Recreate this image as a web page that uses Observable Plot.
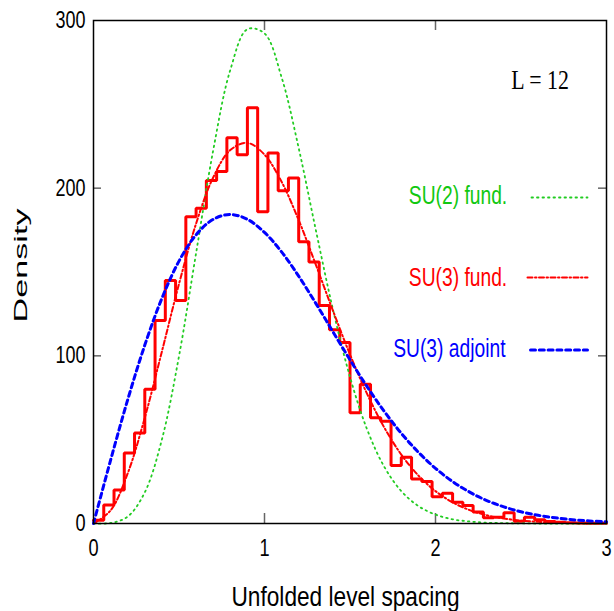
<!DOCTYPE html>
<html><head><meta charset="utf-8">
<script src="https://cdn.jsdelivr.net/npm/d3@7"></script>
<script src="https://cdn.jsdelivr.net/npm/@observablehq/plot@0.6"></script>
<style>body{margin:0;background:#fff}</style>
</head><body><div id="chart"></div>
<script>
// ---- data ----
const binWidth = 0.06;
const binCounts = [2, 11, 20, 42, 54, 80, 121, 145, 133, 183,
  188, 204.5, 210, 230, 220, 248, 186, 221, 198.5, 206,
  168, 156, 130, 115.5, 108, 66, 83, 63, 61, 34.6,
  39.5, 26.6, 25, 16, 18, 12.7, 10.7, 6.8, 3.4, 3.8,
  6.4, 1.4, 3.8, 2.2, 1.2, 0.8, 0.5, 0.3, 0.2, 0.1];
const curveS = [0, 0.1, 0.2, 0.3, 0.4, 0.5, 0.6, 0.7, 0.8, 0.9, 1.0,
  1.1, 1.2, 1.3, 1.4, 1.5, 1.6, 1.7, 1.8, 1.9, 2.0,
  2.1, 2.2, 2.3, 2.4, 2.5, 2.6, 2.7, 2.8, 2.9, 3.0];
const su2Fund = [0, 0.3, 4.1, 18.6, 50.1, 99.8, 161.3, 222.6, 270.5, 294.8, 292.3,
  266.1, 223.9, 175.1, 127.8, 87.4, 56.1, 33.9, 19.3, 10.4, 5.3,
  2.5, 1.2, 0.5, 0.2, 0.1, 0, 0, 0, 0, 0];
const su3Fund = [0, 7.8, 29.9, 63.1, 102.6, 142.9, 178.9, 206.4, 222.7, 227.0, 220.0,
  203.8, 180.9, 154.4, 127.0, 100.8, 77.3, 57.3, 41.1, 28.6, 19.3,
  12.6, 8.0, 4.9, 3.0, 1.7, 1.0, 0.5, 0.3, 0.1, 0.1];
const su3Adjoint = [0, 37.8, 73.8, 106.4, 134.3, 156.5, 172.2, 181.4, 184.3, 181.4, 173.6,
  162.0, 147.5, 131.3, 114.4, 97.6, 81.6, 66.9, 53.8, 42.5, 32.9,
  25.0, 18.7, 13.7, 9.9, 7.0, 4.9, 3.4, 2.3, 1.5, 1.0];
const xTickValues = [0, 1, 2, 3];
const yTickValues = [0, 100, 200, 300];
const innerXTicks = [1, 2];
const innerYTicks = [100, 200];
const seriesLabels = ["SU(2) fund.", "SU(3) fund.", "SU(3) adjoint"];
const annotation = "L = 12";
const xLabel = "Unfolded level spacing";
const yLabel = "Density";

// ---- styles ----
const green = "#22cc22", red = "#ff0000", blue = "#0000ff";
const sans = "Liberation Sans, Arial, Helvetica, sans-serif";
const serif = "Liberation Serif, Times New Roman, serif";
const greenDash = "1.5,4", redDash = "5,2.5,1.5,2.5", blueDash = "5,3.8";

const hist = binCounts.map((c, i) => ({x: i * binWidth, y: c}));
hist.push({x: binCounts.length * binWidth, y: binCounts[binCounts.length - 1]});
const toPts = arr => arr.map((v, i) => ({x: curveS[i], y: v}));
const lineShape = {draw(ctx, l) { ctx.moveTo(0, 0); ctx.lineTo(0, -l); }};
const legendLine = (stroke, dx, dy, length, dash, sw) =>
  Plot.vector([0], {frameAnchor: "top-left", dx, dy, length, rotate: 90, anchor: "start",
    shape: lineShape, stroke, strokeWidth: sw, strokeDasharray: dash});
const legendText = (label, fill, dx, dy) =>
  Plot.text([label], {frameAnchor: "top-left", dx, dy, textAnchor: "start", lineAnchor: "bottom",
    fill, fontSize: 25, fontFamily: sans});

const tickStyle = {stroke: "#666", strokeWidth: 1.5};

const svg = Plot.plot({
  width: 614, height: 611,
  marginLeft: 93, marginRight: 8, marginTop: 20, marginBottom: 88,
  style: {fontFamily: sans, background: "white"},
  x: {domain: [0, 3]},
  y: {domain: [0, 300]},
  marks: [
    Plot.tickX(innerXTicks, {x: d => d, insetTop: 493, ...tickStyle}),
    Plot.tickX(innerXTicks, {x: d => d, insetBottom: 493, ...tickStyle}),
    Plot.tickY(innerYTicks, {y: d => d, insetRight: 505, ...tickStyle}),
    Plot.tickY(innerYTicks, {y: d => d, insetLeft: 505, ...tickStyle}),
    Plot.axisX({ticks: xTickValues, tickSize: 0, tickPadding: 16, fontSize: 23.5, label: null, tickFormat: d => String(d)}),
    Plot.axisY({ticks: yTickValues, tickSize: 0, tickPadding: 8, fontSize: 23.5, label: null, tickFormat: d => String(d)}),
    Plot.line(hist, {x: "x", y: "y", curve: "step-after", stroke: red, strokeWidth: 3, strokeLinejoin: "miter"}),
    Plot.line(toPts(su2Fund), {x: "x", y: "y", curve: "catmull-rom", stroke: green, strokeWidth: 1.8, strokeDasharray: greenDash}),
    Plot.line(toPts(su3Fund), {x: "x", y: "y", curve: "catmull-rom", stroke: red, strokeWidth: 2, strokeDasharray: redDash}),
    Plot.line(toPts(su3Adjoint), {x: "x", y: "y", curve: "catmull-rom", stroke: blue, strokeWidth: 3, strokeDasharray: blueDash}),
    Plot.frame({stroke: "black", strokeWidth: 1.5}),
    legendText(seriesLabels[0], "#11c811", 315.3, 183.3),
    legendText(seriesLabels[1], red, 315.3, 265),
    legendText(seriesLabels[2], blue, 299.7, 336.7),
    legendLine(green, 438, 177, 56, greenDash, 1.8),
    legendLine(red, 434, 257, 60, redDash, 2),
    legendLine(blue, 437, 329.5, 57, blueDash, 3),
    Plot.text([annotation], {frameAnchor: "top-left", dx: 417.7, dy: 68.3, textAnchor: "start", lineAnchor: "bottom",
      fontSize: 27, fontFamily: serif, fill: "black"}),
    Plot.text([xLabel], {frameAnchor: "bottom", dx: -4.5, dy: 82, lineAnchor: "bottom", fontSize: 28, fill: "black"}),
    Plot.text([yLabel], {frameAnchor: "left", dx: -67, dy: -6.5, rotate: -90, textAnchor: "middle", lineAnchor: "bottom", fontSize: 19, fill: "black"})
  ]
});

const lengths = {"0": 10.1, "1": 10.1, "2": 10.1, "3": 10.1, "100": 30, "200": 30, "300": 30,
  "Unfolded level spacing": 228, "Density": 114, "SU(2) fund.": 98.4, "SU(3) fund.": 98.4,
  "SU(3) adjoint": 112.3, "L = 12": 57.6};
d3.select(svg).selectAll("text").each(function() {
  const L = lengths[this.textContent];
  if (L) { this.setAttribute("textLength", L); this.setAttribute("lengthAdjust", "spacingAndGlyphs"); }
});
document.getElementById("chart").appendChild(svg);
</script>
</body></html>
